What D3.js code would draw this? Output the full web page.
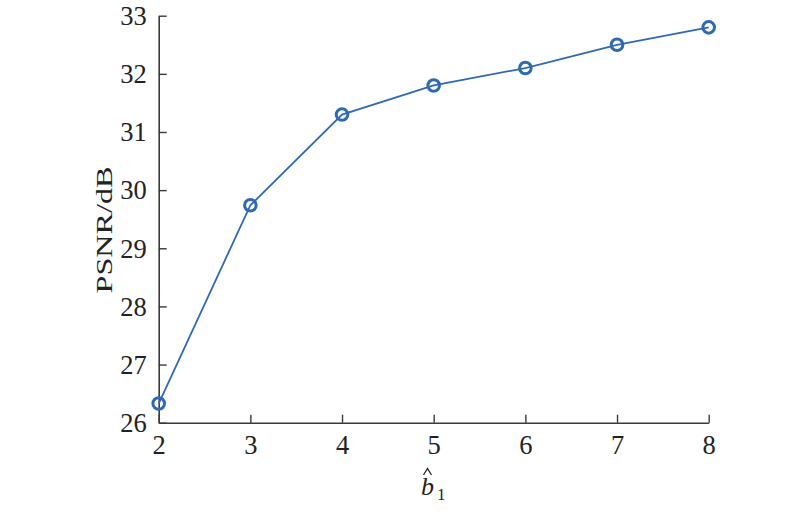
<!DOCTYPE html>
<html>
<head>
<meta charset="utf-8">
<script src="https://cdn.jsdelivr.net/npm/d3@7"></script>
<style>
  body { margin: 0; background: #fff; }
  svg { display: block; }
  text { font-family: "Liberation Serif", "Times New Roman", serif; fill: #222; }
</style>
</head>
<body>
<svg id="chart" width="800" height="511"></svg>
<script>
const xValues = [2, 3, 4, 5, 6, 7, 8];
const psnrValues = [26.33, 29.74, 31.30, 31.80, 32.10, 32.50, 32.80];
const xTicks = [2, 3, 4, 5, 6, 7, 8];
const yTicks = [26, 27, 28, 29, 30, 31, 32, 33];
const yLabel = "PSNR/dB";

(function () {
const svg = d3.select("#chart");
const mLeft = 158.7, mRight = 708.7, mTop = 15.7, mBottom = 422.7;
const axisColor = "#3a3a3a";
const lineColor = "#2f69b3";

const x = d3.scaleLinear().domain([2, 8]).range([mLeft, mRight]);
const y = d3.scaleLinear().domain([26, 33]).range([mBottom, mTop]);

// Y axis
const yAxis = svg.append("g").attr("transform", `translate(${mLeft},0)`)
  .call(d3.axisLeft(y).tickValues(yTicks).tickSizeInner(-8).tickSizeOuter(0).tickPadding(12).tickFormat(d3.format("d")));
yAxis.select(".domain").attr("stroke", axisColor).attr("stroke-width", 1.6);
yAxis.selectAll(".tick line").attr("stroke", axisColor).attr("stroke-width", 1.4);
yAxis.selectAll(".tick text").attr("font-size", 26.5).attr("fill", "#222").attr("dy", "0.33em");

// X axis
const xAxis = svg.append("g").attr("transform", `translate(0,${mBottom})`)
  .call(d3.axisBottom(x).tickValues(xTicks).tickSizeInner(-8).tickSizeOuter(0).tickPadding(12).tickFormat(d3.format("d")));
xAxis.select(".domain").attr("stroke", axisColor).attr("stroke-width", 1.6);
xAxis.selectAll(".tick line").attr("stroke", axisColor).attr("stroke-width", 1.4);
xAxis.selectAll(".tick text").attr("font-size", 26.5).attr("fill", "#222");

// Line
const line = d3.line().x((d, i) => x(xValues[i])).y(d => y(d));
svg.append("path").datum(psnrValues)
  .attr("d", line).attr("fill", "none")
  .attr("stroke", lineColor).attr("stroke-width", 1.8);

// Markers
svg.append("g").selectAll("circle").data(psnrValues).join("circle")
  .attr("cx", (d, i) => x(xValues[i])).attr("cy", d => y(d))
  .attr("r", 5.8).attr("fill", "none")
  .attr("stroke", lineColor).attr("stroke-width", 3);

// Y label
svg.append("text")
  .attr("transform", `translate(112,230) rotate(-90)`)
  .attr("text-anchor", "middle")
  .attr("font-size", 24)
  .attr("textLength", 127).attr("lengthAdjust", "spacingAndGlyphs")
  .text(yLabel);

// X label: b-hat with subscript 1
const xl = svg.append("text").attr("x", 421).attr("y", 495).attr("font-size", 26);
xl.append("tspan").attr("font-style", "italic").text("b");
xl.append("tspan").attr("font-size", 17).attr("dx", 3).attr("dy", 5).text("1");
svg.append("path")
  .attr("d", "M423.5,475 L427.5,468.5 L431.5,475")
  .attr("fill", "none").attr("stroke", "#222").attr("stroke-width", 1.3);
})();
</script>
</body>
</html>
